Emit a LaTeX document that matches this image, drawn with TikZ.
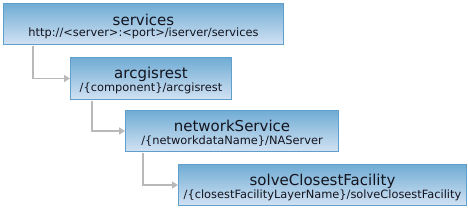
\documentclass[tikz,border=0pt]{standalone}
\usepackage{fontspec}
\setmainfont{DejaVu Sans}
\usetikzlibrary{arrows.meta}
\definecolor{boxtop}{RGB}{112,172,212}
\definecolor{boxbot}{RGB}{210,226,243}
\definecolor{boxline}{RGB}{96,158,204}
\definecolor{conncol}{RGB}{185,185,185}
\definecolor{txt}{RGB}{20,20,30}
\tikzset{
  box/.style={draw=boxline, line width=1pt, top color=boxtop, bottom color=boxbot,
    rectangle, inner sep=0pt, anchor=north west},
  ttl/.style={anchor=base, inner sep=0pt, font=\fontsize{15}{17}\selectfont, text=txt},
  sub/.style={anchor=base, inner sep=0pt, font=\fontsize{11.4}{13}\selectfont, text=txt},
  conn/.style={draw=conncol, line width=1.8pt, -{Triangle[length=6pt,width=7pt]}}
}
\begin{document}
\begin{tikzpicture}[x=1pt,y=-1pt]
\useasboundingbox (0,0) rectangle (468,207);
\node[box, minimum width=280pt, minimum height=41pt] (b1) at (3,3) {};
\node[box, minimum width=161pt, minimum height=42pt] (b2) at (70,57) {};
\node[box, minimum width=213pt, minimum height=41pt] (b3) at (125,110) {};
\node[box, minimum width=288pt, minimum height=41pt] (b4) at (178,164) {};
\node[ttl] (t1) at ([yshift=-22pt]b1.north) {services};
\node[sub] (s1) at ([yshift=-33.5pt]b1.north) {http://<server>:<port>/iserver/services};
\node[ttl] (t2) at ([yshift=-21.5pt]b2.north) {arcgisrest};
\node[sub] (s2) at ([yshift=-34pt]b2.north) {/\{component\}/arcgisrest};
\node[ttl] (t3) at ([yshift=-21.5pt]b3.north) {networkService};
\node[sub] (s3) at ([yshift=-34pt]b3.north) {/\{networkdataName\}/NAServer};
\node[ttl] (t4) at ([yshift=-21.5pt]b4.north) {solveClosestFacility};
\node[sub] (s4) at ([yshift=-34pt]b4.north) {/\{closestFacilityLayerName\}/solveClosestFacility};
\draw[conn] ([xshift=30pt,yshift=-0.5pt]b1.south west) |- (b2.west);
\draw[conn] ([xshift=22pt,yshift=-0.5pt]b2.south west) |- (b3.west);
\draw[conn] ([xshift=18pt,yshift=-0.5pt]b3.south west) |- (b4.west);
\end{tikzpicture}
\end{document}
